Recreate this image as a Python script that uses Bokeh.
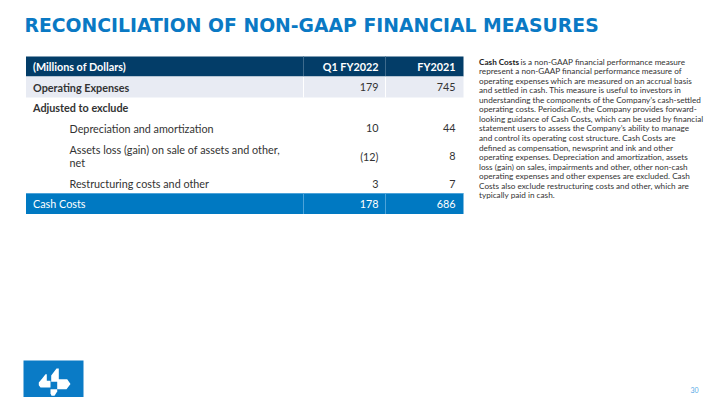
from bokeh.plotting import figure
from bokeh.models import Range1d, ColumnDataSource
from bokeh.core.properties import value
from bokeh.embed import file_html
from bokeh.resources import INLINE

# ---------------- data ----------------
title = "RECONCILIATION OF NON-GAAP FINANCIAL MEASURES"
header_labels = ["(Millions of Dollars)", "Q1 FY2022", "FY2021"]
row_labels = ["Operating Expenses", "Adjusted to exclude", "Depreciation and amortization",
              "Assets loss (gain) on sale of assets and other,\nnet", "Restructuring costs and other"]
row_bold = [True, True, False, False, False]
row_indent = [False, False, True, True, True]
q1_values = ["179", "", "10", "(12)", "3"]
fy_values = ["745", "", "44", "8", "7"]
total_label = "Cash Costs"
total_q1 = "178"
total_fy = "686"
note_bold = "Cash Costs"
note_lines = [
    " is a non-GAAP financial performance measure",
    "represent a non-GAAP financial performance measure of",
    "operating expenses which are measured on an accrual basis",
    "and settled in cash. This measure is useful to investors in",
    "understanding the components of the Company\u2019s cash-settled",
    "operating costs. Periodically, the Company provides forward-",
    "looking guidance of Cash Costs, which can be used by financial",
    "statement users to assess the Company\u2019s ability to manage",
    "and control its operating cost structure. Cash Costs are",
    "defined as compensation, newsprint and ink and other",
    "operating expenses. Depreciation and amortization, assets",
    "loss (gain) on sales, impairments and other, other non-cash",
    "operating expenses and other expenses are excluded. Cash",
    "Costs also exclude restructuring costs and other, which are",
    "typically paid in cash.",
]
page_number = "30"

# ---------------- layout / style ----------------
FONT = "Lato"
TFS = "10.8px"
NFS = "8.2px"
NAVY = "#033d68"
LIGHT = "#e8ebf3"
BLUE = "#0079c2"
TXT = "#333333"

W, H = 712, 397
p = figure(width=W, height=H, output_backend="svg", toolbar_location=None,
           x_range=Range1d(0, W), y_range=Range1d(H, 0),
           min_border=0, outline_line_color=None, background_fill_color="white",
           border_fill_color="white")
p.axis.visible = False
p.grid.visible = False

# title
p.text(x=[24], y=[25], text=[title], text_font=value("DejaVu Sans"),
       text_font_size=value("18.8px"), text_font_style="bold", text_color="#0a79c4",
       text_baseline="middle", text_align="left")

# table geometry
L, C1, C2, R = 25.5, 303, 385, 463
x_q1, x_fy = 378, 455
x_lab, x_ind = 32.5, 69
row_tops = [76, 97, 117, 138, 173]
row_bots = [97, 117, 138, 173, 193]
head_top, head_bot = 56, 76
tot_top, tot_bot = 193, 213.5

# backgrounds
p.quad(left=[L], right=[R], top=[head_top], bottom=[head_bot], fill_color=NAVY, line_color=None)
p.quad(left=[L], right=[R], top=[row_tops[0]], bottom=[row_bots[0]], fill_color=LIGHT, line_color=None)
p.quad(left=[L], right=[R], top=[tot_top], bottom=[tot_bot], fill_color=BLUE, line_color=None)
# dividers
for (t, b, col) in [(head_top, head_bot, "#3d6a8c"), (tot_top, tot_bot, "#4da3d9"),
                    (row_tops[0], row_bots[0], "#ffffff")]:
    p.segment(x0=[C1, C2], y0=[t, t], x1=[C1, C2], y1=[b, b], line_color=col, line_width=1)
p.segment(x0=[L], y0=[tot_top], x1=[R], y1=[tot_top], line_color="#4da3d9", line_width=1)

# header texts
p.text(x=[x_lab], y=[(head_top + head_bot) / 2], text=[header_labels[0]], text_font=value(FONT),
       text_font_size=value(TFS), text_font_style="bold", text_color="white",
       text_baseline="middle", text_align="left")
p.text(x=[x_q1, x_fy], y=[(head_top + head_bot) / 2] * 2, text=header_labels[1:], text_font=value(FONT),
       text_font_size=value(TFS), text_font_style="bold", text_color="white",
       text_baseline="middle", text_align="right")

# body rows
lx, ly, lt, lb = [], [], [], []
for i, lab in enumerate(row_labels):
    parts = lab.split("\n")
    cy = (row_tops[i] + row_bots[i]) / 2
    lh = 13
    y0 = cy - lh * (len(parts) - 1) / 2
    for k, part in enumerate(parts):
        lx.append(x_ind if row_indent[i] else x_lab)
        ly.append(y0 + k * lh)
        lt.append(part)
        lb.append(row_bold[i])
src_b = ColumnDataSource(dict(x=[a for a, b in zip(lx, lb) if b], y=[a for a, b in zip(ly, lb) if b],
                              t=[a for a, b in zip(lt, lb) if b]))
src_n = ColumnDataSource(dict(x=[a for a, b in zip(lx, lb) if not b], y=[a for a, b in zip(ly, lb) if not b],
                              t=[a for a, b in zip(lt, lb) if not b]))
p.text(x="x", y="y", text="t", source=src_b, text_font=value(FONT), text_font_size=value(TFS),
       text_font_style="bold", text_color=TXT, text_baseline="middle", text_align="left")
p.text(x="x", y="y", text="t", source=src_n, text_font=value(FONT), text_font_size=value(TFS),
       text_color=TXT, text_baseline="middle", text_align="left")
cys = [(t + b) / 2 for t, b in zip(row_tops, row_bots)]
p.text(x=[x_q1] * len(q1_values) + [x_fy] * len(fy_values), y=cys + cys,
       text=q1_values + fy_values, text_font=value(FONT), text_font_size=value(TFS),
       text_color=TXT, text_baseline="middle", text_align="right")

# total row
tcy = (tot_top + tot_bot) / 2
p.text(x=[x_lab], y=[tcy], text=[total_label], text_font=value(FONT), text_font_size=value(TFS),
       text_color="white", text_baseline="middle", text_align="left")
p.text(x=[x_q1, x_fy], y=[tcy, tcy], text=[total_q1, total_fy], text_font=value(FONT),
       text_font_size=value(TFS), text_color="white", text_baseline="middle", text_align="right")

# note paragraph
nx, ny0, nlh = 478.5, 61, 9.57
p.text(x=[nx], y=[ny0], text=[note_bold], text_font=value(FONT), text_font_size=value(NFS),
       text_font_style="bold", text_color="#222222", text_baseline="middle", text_align="left")
p.text(x=[nx + 41.5] + [nx] * (len(note_lines) - 1),
       y=[ny0 + i * nlh for i in range(len(note_lines))], text=note_lines,
       text_font=value(FONT), text_font_size=value(NFS), text_color="#333333",
       text_baseline="middle", text_align="left")

# logo
p.quad(left=[23], right=[83], top=[360], bottom=[H], fill_color="#0a7bc6", line_color=None)
p.patches(xs=[[38.3, 41.7, 45, 46.3, 46.3, 50, 50, 40, 38.3],
              [50.7, 56, 58.3, 58.3, 66.7, 70, 66, 56.7, 56.7, 50.7],
              [50, 56.7, 56.7, 54, 51, 50]],
          ys=[[382, 378, 373.7, 373.7, 380.3, 380.3, 387, 387, 384.7],
              [375, 368, 368, 378.7, 378.7, 383.5, 388.7, 388.7, 381.3, 381.3],
              [388.7, 388.7, 391, 395.3, 395.3, 393]],
          fill_color="white", line_color=None)

# page number
p.text(x=[694], y=[389], text=[page_number], text_font=value(FONT), text_font_size=value("7px"),
       text_color="#5aaae6", text_baseline="middle", text_align="center")

open("out.html", "w").write(file_html(p, INLINE))
